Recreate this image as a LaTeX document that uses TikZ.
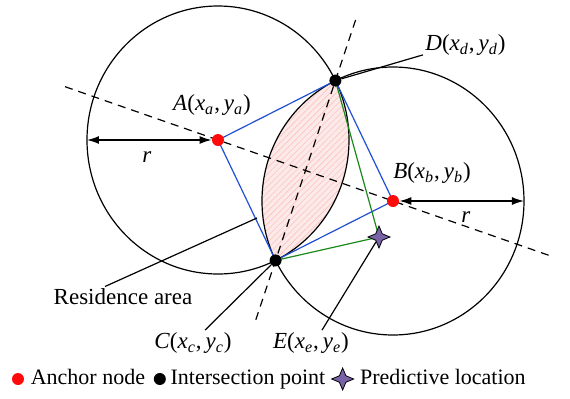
\documentclass[tikz,border=0pt]{standalone}
\usepackage{fontspec}
\setmainfont{Liberation Serif}
\usepackage{tikz}
\usetikzlibrary{arrows.meta,positioning,shapes.geometric,intersections,patterns.meta,calc}
\definecolor{anchorRed}{HTML}{FF0A0A}
\definecolor{quadBlue}{HTML}{1F4FD6}
\definecolor{predGreen}{HTML}{1A8A1A}
\definecolor{starPurple}{HTML}{7A62A6}
\definecolor{lensPink}{HTML}{FBEAE8}
\newcommand{\ptlabel}[2]{\textit{#1}(\textit{x}\textsubscript{\textit{#2}},\,\textit{y}\textsubscript{\textit{#2}})}
\tikzset{
  anchorDot/.style={
    circle,
    fill=anchorRed,
    inner sep=0pt,
    minimum size=6pt
  },
  crossDot/.style={
    circle,
    fill=black,
    inner sep=0pt,
    minimum size=6pt
  },
  predStar/.style={
    star,
    star points=4,
    star point ratio=2.4,
    draw=black,
    fill=starPurple,
    line width=0.4pt,
    inner sep=0pt,
    minimum size=11pt
  },
  rangeCircle/.style={
    draw=black,
    line width=0.6pt
  },
  guideLine/.style={
    draw=black,
    line width=0.6pt,
    dash pattern=on 4pt off 3pt
  },
  quadLine/.style={
    draw=quadBlue,
    line width=0.6pt
  },
  predLine/.style={
    draw=predGreen,
    line width=0.6pt
  },
  leader/.style={
    draw=black,
    line width=0.6pt
  },
  radArrow/.style={
    {Latex[length=6pt,width=4pt]}-{Latex[length=6pt,width=4pt]},
    line width=0.7pt,
    draw=black
  },
  ptText/.style={
    inner sep=1pt
  },
  keyText/.style={
    inner sep=0pt,
    text height=7.5pt,
    text depth=2.5pt,
    font=\fontsize{11}{13}\selectfont
  }
}

\begin{document}
\begin{tikzpicture}[x=0.5pt,y=-0.5pt,font=\fontsize{11.5}{13}\selectfont]
  \useasboundingbox (0,0) rectangle (570,398);
  \coordinate (ctrA) at (218,140);
  \coordinate (ctrB) at (393,201);
  \path[name path=circA] (ctrA) ellipse [x radius=131, y radius=134];
  \path[name path=circB] (ctrB) ellipse [x radius=131, y radius=134];
  \path[name intersections={of=circA and circB, name=cut, sort by=circA}];
  \coordinate (ptC) at (cut-1);
  \coordinate (ptD) at (cut-2);

  % residence area
  \begin{scope}
    \clip (ctrA) ellipse [x radius=131, y radius=134];
    \fill[lensPink] (ctrB) ellipse [x radius=131, y radius=134];
    \fill[pattern={Lines[angle=45,distance=2.2pt,line width=0.3pt]}, pattern color=red!24] (ctrB) ellipse [x radius=131, y radius=134];
  \end{scope}
  \draw[rangeCircle] (ctrA) ellipse [x radius=131, y radius=134];
  \draw[rangeCircle] (ctrB) ellipse [x radius=131, y radius=134];

  \draw[guideLine] ($(ctrA)!-0.874!(ctrB)$) -- ($(ctrB)!-0.89!(ctrA)$);
  \draw[guideLine] ($(ptD)!-0.337!(ptC)$) -- ($(ptC)!-0.342!(ptD)$);

  \draw[quadLine] (ctrA) -- (ptD) -- (ctrB) -- (ptC) -- cycle;
  \coordinate (ptE) at (379,237);
  \draw[predLine] (ptD) -- (ptE) -- (ptC);

  \node[anchorDot] (a) at (ctrA) {};
  \node[anchorDot] (b) at (ctrB) {};
  \node[crossDot] (d) at (ptD) {};
  \node[crossDot] (c) at (ptC) {};
  \node[predStar] (e) at (ptE) {};

  \node[ptText] (aLbl) at (212,105) {\ptlabel{A}{a}};
  \node[ptText] (bLbl) at (432,173) {\ptlabel{B}{b}};
  \node[ptText,anchor=west] (dLbl) at (423,45) {\ptlabel{D}{d}};
  \node[ptText] (cLbl) at (193,343) {\ptlabel{C}{c}};
  \node[ptText] (eLbl) at (311,343) {\ptlabel{E}{e}};
  \node[ptText] (resLbl) at (123,297) {Residence area};
  \coordinate (resTip) at (257,218);

  \draw[leader] (d) -- ([yshift=1.5pt]dLbl.south west);
  \draw[leader] ([xshift=6pt]cLbl.north) -- (c);
  \draw[leader] ([xshift=5.5pt]eLbl.north) -- (e);
  \draw[leader] ([xshift=-9pt]resLbl.north) -- (resTip);

  % radius marks
  \coordinate (rA) at (87,140);
  \coordinate (rB) at (524,201);
  \draw[radArrow] (rA) -- (a.west);
  \draw[radArrow] (b.east) -- (rB);
  \node[ptText] (rALbl) at (147,157) {\textit{r}};
  \node[ptText] (rBLbl) at (466,217) {\textit{r}};

  % legend
  \node[anchorDot] (keyA) at (18,379) {};
  \node[keyText,right=3pt of keyA] (keyAtxt) {Anchor node};
  \node[crossDot,right=4pt of keyAtxt] (keyC) {};
  \node[keyText,right=2pt of keyC] (keyCtxt) {Intersection point};
  \node[predStar,right=2.5pt of keyCtxt] (keyE) {};
  \node[keyText,right=2.5pt of keyE] (keyEtxt) {Predictive location};
\end{tikzpicture}
\end{document}
